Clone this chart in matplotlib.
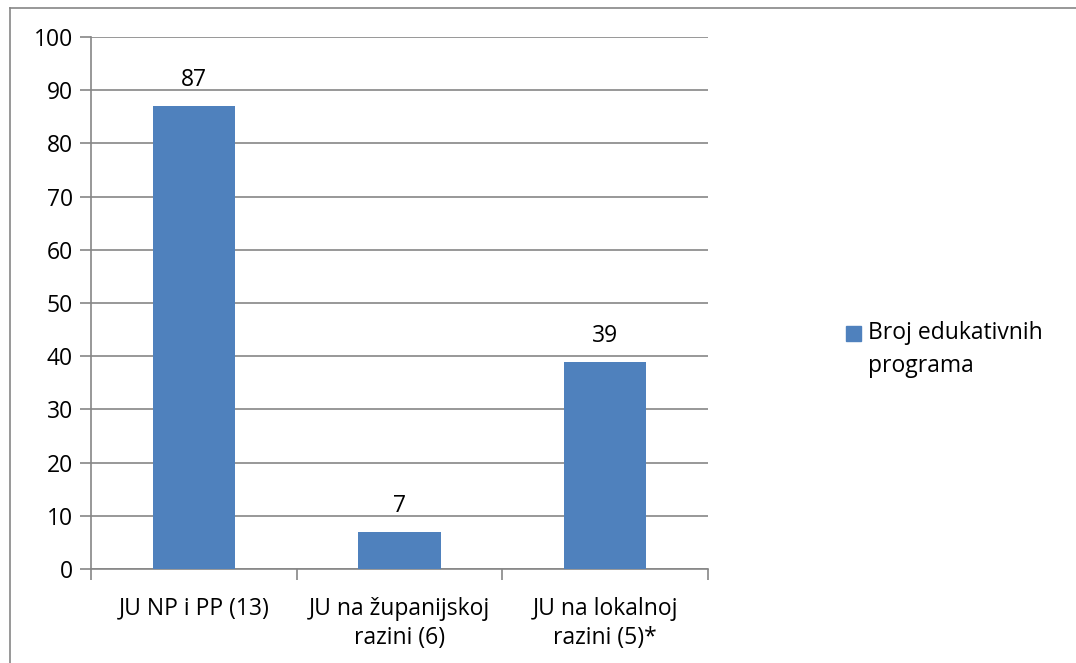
import numpy as np
import matplotlib.pyplot as plt
from matplotlib.patches import Rectangle
from matplotlib.lines import Line2D

categories = ["JU NP i PP (13)", "JU na županijskoj\nrazini (6)", "JU na lokalnoj\nrazini (5)*"]
values = [87, 7, 39]
series_name = "Broj edukativnih\nprograma"
y_ticks = list(range(0, 101, 10))

bar_color = "#4F81BD"
grid_color = "#868686"
fs = 16.5

plt.rcParams["font.family"] = ["Open Sans", "DejaVu Sans"]

fig = plt.figure(figsize=(10.76, 6.63), dpi=100)
W, H = 1076, 663
ax = fig.add_axes([91 / W, 1 - 569 / H, (708 - 91) / W, (569 - 37) / H])

# outer chart frame, only left and top edges are inside the picture
fig.lines.append(Line2D([9.5 / W, 9.5 / W], [0, 1 - 7.5 / H], transform=fig.transFigure,
                        color=grid_color, linewidth=1.2))
fig.lines.append(Line2D([9.5 / W, 1.01], [1 - 7.5 / H, 1 - 7.5 / H], transform=fig.transFigure,
                        color=grid_color, linewidth=1.2))

x = np.arange(len(categories))
bars = ax.bar(x, values, width=0.4, color=bar_color, zorder=3)
for b, v in zip(bars, values):
    ax.text(b.get_x() + b.get_width() / 2, v + 2.6, str(v),
            ha="center", va="bottom", fontsize=fs, color="black")

ax.set_xlim(-0.5, len(categories) - 0.5)
ax.set_ylim(0, 100)
ax.set_yticks(y_ticks)
ax.set_yticklabels([str(t) for t in y_ticks], fontsize=fs)
ax.yaxis.grid(True, color=grid_color, linewidth=1.2, zorder=0)
ax.tick_params(axis="y", length=8, width=1.2, color=grid_color, pad=5)

ax.set_xticks(x)
ax.set_xticklabels(categories, fontsize=fs, linespacing=1.3)
ax.set_xticks(np.arange(len(categories) + 1) - 0.5, minor=True)
ax.tick_params(axis="x", which="major", length=0, pad=20)
ax.tick_params(axis="x", which="minor", length=8, width=1.2, color=grid_color)

for s in ["top", "right"]:
    ax.spines[s].set_visible(False)
for s in ["left", "bottom"]:
    ax.spines[s].set_color(grid_color)
    ax.spines[s].set_linewidth(1.2)

# legend: square aligned with the first line of the label
fig.patches.append(Rectangle((846 / W, 1 - 341 / H), 15 / W, 15 / H,
                             transform=fig.transFigure, color=bar_color))
fig.text(868 / W, 1 - 321 / H, series_name, ha="left", va="top",
         fontsize=fs, linespacing=1.5)

fig.savefig("out.png", dpi=100)
